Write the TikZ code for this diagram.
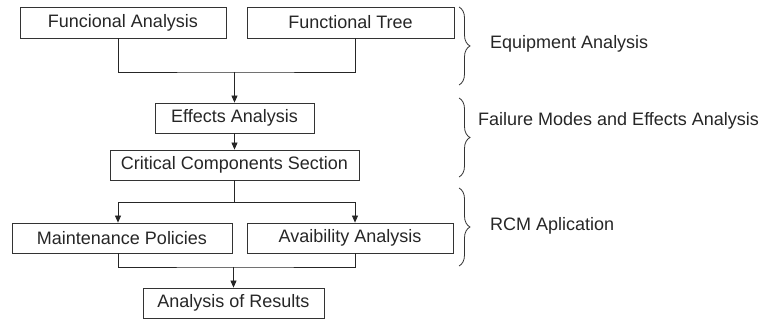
\documentclass[tikz,border=0pt]{standalone}
\usepackage{fontspec}
\setmainfont{Liberation Sans}
\usetikzlibrary{arrows.meta,decorations.pathreplacing,calc}
\begin{document}
\begin{tikzpicture}[x=1pt,y=-1pt,
  box/.style={draw=black!80,line width=0.8pt,inner sep=0pt,minimum height=30pt,text=black!85,font=\fontsize{18}{20}\selectfont},
  lbl/.style={anchor=west,inner sep=0pt,text=black!85,font=\fontsize{18}{20}\selectfont},
  con/.style={draw=black!85,line width=0.8pt},
  arr/.style={con,-{Triangle[length=7pt,width=6pt]}},
  brc/.style={draw=black!80,line width=0.8pt,decorate,decoration={brace,amplitude=11pt}}]
\useasboundingbox (0,0) rectangle (764,320);
% boxes
\node[box,minimum width=206pt,minimum height=31pt] (fa) at (123,22.5) {Funcional Analysis};
\node[box,minimum width=207pt,minimum height=31pt] (ft) at (350.5,22.5) {Functional Tree};
\node[box,minimum width=159pt] (ea) at (234.5,118) {Effects Analysis};
\node[box,minimum width=249pt] (cc) at (234.5,165) {Critical Components Section};
\node[box,minimum width=220pt] (mp) at (122,238) {Maintenance Policies};
\node[box,minimum width=206pt] (av) at (350,238) {Avaibility Analysis};
\node[box,minimum width=181pt] (ar) at (233.5,303) {Analysis of Results};
% helper coordinates
\coordinate (xl) at (118,0);
\coordinate (xr) at (355,0);
\coordinate (j1) at (ea.north |- 0,72);
\coordinate (j2) at (cc.south |- 0,202);
\coordinate (j3) at (ar.north |- 0,267);
% connectors
\draw[con] (fa.south -| xl) |- (j1) -| (ft.south -| xr);
\draw[arr] (j1) -- (ea.north);
\draw[arr] (ea.south) -- (cc.north);
\draw[con] (cc.south) -- (j2);
\draw[arr] (j2) -| (mp.north -| xl);
\draw[arr] (j2) -| (av.north -| xr);
\draw[con] (mp.south -| xl) |- (j3) -| (av.south -| xr);
\draw[arr] (j3) -- (ar.north);
% braces
\draw[brc] (459,7) -- (459,85);
\draw[brc] (459,98) -- (459,177);
\draw[brc] (459,188) -- (459,266);
\node[lbl] (l1) at (490,44) {Equipment Analysis};
\node[lbl] (l2) at (478,121) {Failure Modes and Effects Analysis};
\node[lbl] (l3) at (490,226) {RCM Aplication};
\end{tikzpicture}
\end{document}
